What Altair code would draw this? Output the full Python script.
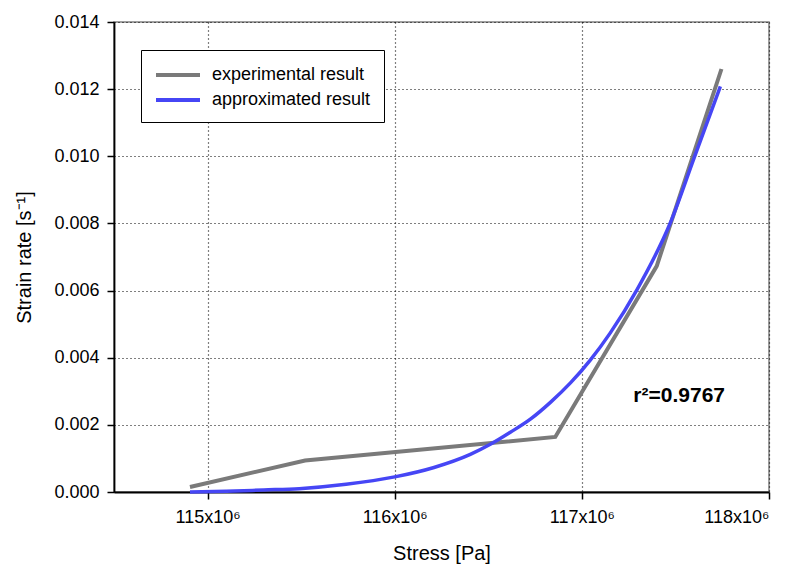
import altair as alt
import pandas as pd

# Experimental result (stress in units of 1e6 Pa, strain rate in 1/s)
exp_stress = [114.906, 115.521, 116.858, 117.40, 117.746]
exp_rate = [0.00015, 0.00094, 0.00164, 0.00673, 0.0126]

# Approximated result
approx_stress = [114.906, 115.10, 115.30, 115.49, 115.74, 116.0, 116.21, 116.404,
                 116.511, 116.618, 116.725, 116.832, 116.939, 117.045, 117.152,
                 117.295, 117.473, 117.60, 117.74]
approx_rate = [0.0, 0.00002, 0.00006, 0.0001, 0.00023, 0.00045, 0.00073, 0.00112,
               0.00142, 0.00178, 0.00217, 0.00267, 0.00325, 0.00393, 0.00474,
               0.00603, 0.00802, 0.00995, 0.01208]

series_names = ["experimental result", "approximated result"]
series_colors = ["#7a7a7a", "#4646f5"]

x_ticks = [115e6, 116e6, 117e6, 118e6]
y_ticks = [0.0, 0.002, 0.004, 0.006, 0.008, 0.010, 0.012, 0.014]

annot_text = ["r²=0.9767"]
annot_x = [117.52e6]
annot_y = [0.00286]

exp_df = pd.DataFrame({"stress": [s * 1e6 for s in exp_stress], "rate": exp_rate,
                       "series": series_names[0]})
approx_df = pd.DataFrame({"stress": [s * 1e6 for s in approx_stress], "rate": approx_rate,
                          "series": series_names[1]})
text_df = pd.DataFrame({"stress": annot_x, "rate": annot_y, "label": annot_text})

FONT = "Liberation Sans"

x_enc = alt.X("stress:Q",
              scale=alt.Scale(domain=[114.5e6, 118e6], nice=False, zero=False),
              axis=alt.Axis(values=x_ticks, title="Stress [Pa]",
                            labelExpr="format(datum.value/1e6,'d') + 'x10⁶'",
                            labelPadding=9, titlePadding=17))
y_enc = alt.Y("rate:Q",
              scale=alt.Scale(domain=[0, 0.014], nice=False),
              axis=alt.Axis(values=y_ticks, format=".3f", title="Strain rate [s⁻¹]",
                            labelPadding=8, titlePadding=19))
color_enc = alt.Color("series:N",
                      scale=alt.Scale(domain=series_names, range=series_colors),
                      legend=alt.Legend(title=None, orient="none", legendX=27, legendY=28,
                                        symbolType="M-1,0L3.4,0", symbolStrokeWidth=4,
                                        symbolSize=400, labelFontSize=18, labelFont=FONT,
                                        labelColor="black", labelOffset=34,
                                        rowPadding=4, padding=13, strokeColor="black",
                                        fillColor="white"))

exp_line = alt.Chart(exp_df).mark_line(strokeWidth=4).encode(
    x=x_enc, y=y_enc, color=color_enc, order="stress:Q")
approx_line = alt.Chart(approx_df).mark_line(strokeWidth=3.5, interpolate="monotone").encode(
    x=x_enc, y=y_enc, color=color_enc, order="stress:Q")
annot = alt.Chart(text_df).mark_text(font=FONT, fontSize=21, fontWeight="bold",
                                     color="black", align="center", baseline="middle").encode(
    x="stress:Q", y="rate:Q", text="label:N")

chart = alt.layer(exp_line, approx_line, annot).properties(
    width=655, height=470,
    autosize=alt.AutoSizeParams(type="none"),
    padding={"left": 106, "top": 14, "right": 25, "bottom": 76},
).configure_view(
    stroke="#808080", strokeWidth=1.5
).configure_axis(
    grid=True, gridColor="black", gridDash=[1, 3], gridWidth=1.2, gridOpacity=1,
    domainColor="black", domainWidth=1.8, tickColor="black", tickSize=7, tickWidth=1.5,
    labelFont=FONT, labelFontSize=18, labelColor="black",
    titleFont=FONT, titleFontSize=20, titleFontWeight="normal", titleColor="black",
)

chart.save("out.html", embed_options={"renderer": "svg", "actions": False})
